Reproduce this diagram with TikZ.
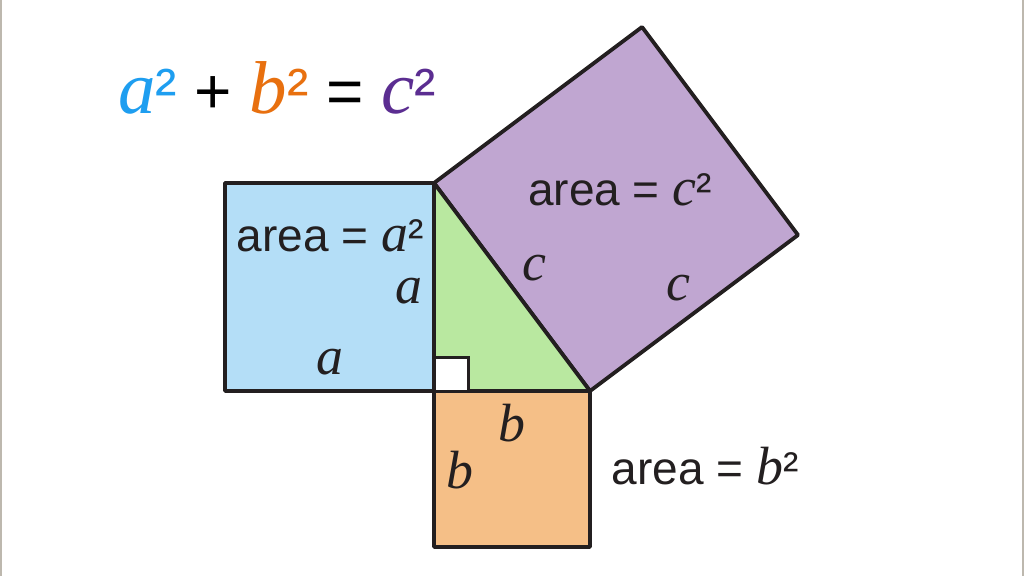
\documentclass[tikz,border=0pt]{standalone}
\usepackage{fontspec}
\setmainfont{Liberation Sans}
\newfontfamily\letfont{Liberation Serif}
\definecolor{sqblue}{HTML}{B4DEF7}
\definecolor{sqgreen}{HTML}{B9E8A0}
\definecolor{sqorange}{HTML}{F5BF87}
\definecolor{sqpurple}{HTML}{C0A6D1}
\definecolor{txtblue}{HTML}{1E9EF0}
\definecolor{txtorange}{HTML}{E8700F}
\definecolor{txtpurple}{HTML}{5B2D91}
\definecolor{ink}{HTML}{231F20}
\definecolor{frame}{HTML}{BDB8AE}
\newcommand{\lt}[1]{{\letfont\itshape\scalebox{1.17}{#1}}}
\tikzset{
  sq/.style={draw=ink, line width=3.8pt, line join=round},
  lbl/.style={text=ink, font=\fontsize{46}{50}\selectfont, inner sep=0pt},
  big/.style={font=\fontsize{64}{68}\selectfont, inner sep=0pt}
}
\begin{document}
\begin{tikzpicture}[x=1pt,y=-1pt]
\useasboundingbox (0,0) rectangle (1024,576);
\fill[white] (0,0) rectangle (1024,576);
\draw[line width=2pt, frame] (1,0) -- (1,576);
\draw[line width=2pt, frame] (1023,0) -- (1023,576);
\coordinate (rt) at (434,391);
\coordinate (top) at (434,183);
\coordinate (rgt) at (590,391);
% squares on the sides
\draw[sq, fill=sqblue] (225,183) rectangle (rgt -| top);
\draw[sq, fill=sqorange] (rt) rectangle (590,547);
\draw[sq, fill=sqpurple] (top) -- (rgt) -- (798,235) -- (642,27) -- cycle;
\draw[sq, fill=sqgreen] (top) -- (rgt) -- (rt) -- cycle;
\draw[draw=ink, line width=3pt, fill=white] (rt) rectangle (468,357);
% labels
\node[big] (eq) at (277,88) {\textcolor{txtblue}{\lt{a}²} + \textcolor{txtorange}{\lt{b}²} = \textcolor{txtpurple}{\lt{c}²}};
\node[lbl] (areaa) at (330,236) {area = \lt{a}²};
\node[lbl] (areac) at (620,190) {area = \lt{c}²};
\node[lbl] (areab) at (705,466) {area = \lt{b}²};
\node[lbl] (a1) at (409,291) {\lt{a}};
\node[lbl] (a2) at (330,362) {\lt{a}};
\node[lbl] (c1) at (534,268) {\lt{c}};
\node[lbl] (c2) at (678,288) {\lt{c}};
\node[lbl] (b1) at (512,423) {\lt{b}};
\node[lbl] (b2) at (460,470) {\lt{b}};
\end{tikzpicture}
\end{document}
